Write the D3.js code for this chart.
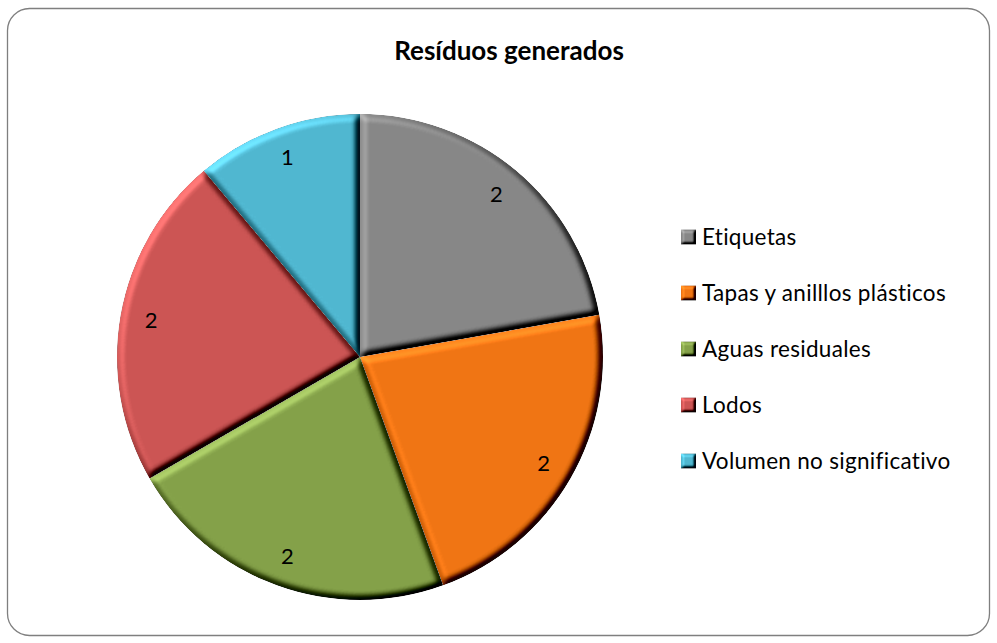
<!DOCTYPE html>
<html>
<head>
<meta charset="utf-8">
<script src="https://cdn.jsdelivr.net/npm/d3@7"></script>
<style>
  html, body { margin: 0; padding: 0; background: #fff; }
  svg { display: block; }
  text { font-family: Lato, "Open Sans", sans-serif; }
</style>
</head>
<body>
<svg id="chart" width="997" height="643"></svg>
<script>
// Waste categories and their counts
const categories = ["Etiquetas", "Tapas y anilllos plásticos", "Aguas residuales", "Lodos", "Volumen no significativo"];
const values = [2, 2, 2, 2, 1];
const colors = ["#878787", "#F07514", "#84A149", "#CC5554", "#50B7D0"];
const title = "Resíduos generados";

const W = 997, H = 643;
const svg = d3.select("#chart");

// Bevel: diffuse lighting on the blurred alpha; shading multiplies the fill,
// a small additive term lifts the lit edges
const defs = svg.append("defs");
function bevel(id, blur, scale, shade, lift) {
  const el = 50;
  const flat = Math.sin(el * Math.PI / 180);
  const f = defs.append("filter").attr("id", id)
    .attr("x", "-5%").attr("y", "-5%").attr("width", "110%").attr("height", "110%")
    .attr("color-interpolation-filters", "sRGB");
  f.append("feGaussianBlur").attr("in", "SourceAlpha").attr("stdDeviation", blur).attr("result", "blur");
  const l = f.append("feDiffuseLighting").attr("in", "blur").attr("surfaceScale", scale)
    .attr("diffuseConstant", 1).attr("lighting-color", "#fff").attr("result", "light");
  l.append("feDistantLight").attr("azimuth", 225).attr("elevation", el);
  f.append("feComposite").attr("in", "SourceGraphic").attr("in2", "light")
    .attr("operator", "arithmetic")
    .attr("k1", shade / flat).attr("k2", 1 - shade)
    .attr("k3", lift).attr("k4", -lift * flat)
    .attr("result", "lit");
  f.append("feComposite").attr("in", "lit").attr("in2", "SourceAlpha").attr("operator", "in");
}
bevel("bevel", 3.5, 7, 0.6, 0.35);
bevel("bevelKey", 1.8, 4, 0.6, 0.35);

// Frame
svg.append("rect")
  .attr("x", 7.5).attr("y", 8.5).attr("width", 982).attr("height", 627)
  .attr("rx", 22).attr("ry", 22)
  .attr("fill", "#fff").attr("stroke", "#7f7f7f").attr("stroke-width", 1.3);

// Title
svg.append("text")
  .attr("x", 509).attr("y", 60)
  .attr("text-anchor", "middle")
  .attr("font-size", 26).attr("font-weight", "bold").attr("fill", "#000")
  .text(title);

// Pie
const cx = 360, cy = 357, R = 243;
const pie = d3.pie().sort(null).value(d => d);
const arcs = pie(values);
const arc = d3.arc().innerRadius(0).outerRadius(R);
const labelArc = d3.arc().innerRadius(212).outerRadius(212);

const g = svg.append("g").attr("transform", `translate(${cx},${cy})`);
g.selectAll("path.slice").data(arcs).join("path")
  .attr("class", "slice")
  .attr("d", arc)
  .attr("fill", (d, i) => colors[i])
  .attr("filter", "url(#bevel)");

g.selectAll("text.val").data(arcs).join("text")
  .attr("class", "val")
  .attr("transform", d => `translate(${labelArc.centroid(d)})`)
  .attr("text-anchor", "middle").attr("dy", "0.35em")
  .attr("font-size", 22).attr("fill", "#000")
  .text(d => d.data);

// Legend
const legendY = d3.scalePoint().domain(categories).range([237, 461]);
const lg = svg.append("g");
const rows = lg.selectAll("g").data(categories).join("g")
  .attr("transform", d => `translate(681,${legendY(d)})`);
rows.append("rect")
  .attr("x", 0).attr("y", -7.5).attr("width", 15).attr("height", 15)
  .attr("fill", (d, i) => colors[i])
  .attr("filter", "url(#bevelKey)");
rows.append("text")
  .attr("x", 21).attr("dy", "0.36em")
  .attr("font-size", 22.5).attr("letter-spacing", 0.3).attr("fill", "#000")
  .text(d => d);
</script>
</body>
</html>
